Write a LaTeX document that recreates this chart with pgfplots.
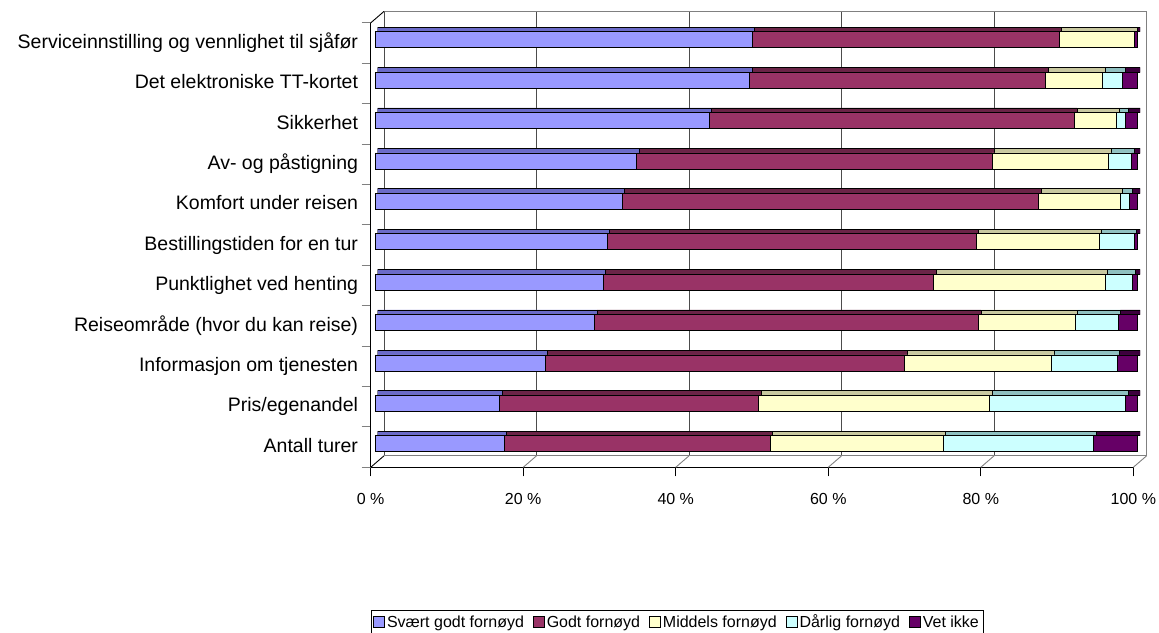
\documentclass[border=0pt]{standalone}
\usepackage{fontspec}
\setmainfont{Liberation Sans}
\usepackage{pgfplots}
\usepackage{pgfplotstable}
\pgfplotsset{compat=1.18}

\definecolor{c1}{HTML}{9999FF}
\definecolor{c2}{HTML}{993366}
\definecolor{c3}{HTML}{FFFFCC}
\definecolor{c4}{HTML}{CCFFFF}
\definecolor{c5}{HTML}{660066}
\definecolor{t1}{HTML}{6B6BC8}
\definecolor{t2}{HTML}{6B2447}
\definecolor{t3}{HTML}{C8C8A0}
\definecolor{t4}{HTML}{8FC0C0}
\definecolor{t5}{HTML}{3D003D}

% idx 0 = Antall turer (bottom) ... 10 = Serviceinnstilling (top)
\pgfplotstableread{
idx a b c d e
0 16.9 34.9 22.7 19.7 5.8
1 16.3 34.0 30.3 17.8 1.6
2 22.3 47.1 19.3 8.6 2.7
3 28.8 50.3 12.7 5.6 2.6
4 29.9 43.3 22.5 3.6 0.7
5 30.4 48.4 16.1 4.6 0.5
6 32.4 54.6 10.7 1.2 1.1
7 34.3 46.6 15.3 3.0 0.8
8 43.8 47.9 5.5 1.2 1.6
9 49.1 38.8 7.5 2.6 2.0
10 49.4 40.3 9.9 0.0 0.4
}\data

\pgfplotsset{
  lg/.style={legend image code/.code={\draw[##1, line width=0.8pt] (0pt,-5.5pt) rectangle (11pt,5.5pt);}},
}

\begin{document}
\begin{tikzpicture}
\path[use as bounding box] (0pt,0pt) rectangle (1159pt,632pt);

% frame: floor, left wall, back wall
\begin{axis}[at={(370.7pt,164.7pt)}, anchor=south west, scale only axis,
  width=762.6pt, height=444.4pt, clip=false,
  xmin=0, xmax=100, ymin=0, ymax=11,
  axis x line*=bottom, axis y line*=left,
  axis line style={black, line width=0.9pt, -},
  tick align=outside, major tick length=9pt,
  xtick={0,20,40,60,80,100},
  xticklabels={0 \%,20 \%,40 \%,60 \%,80 \%,100 \%},
  x tick style={black, line width=0.9pt},
  y tick style={gray, line width=0.9pt},
  ytick={0,1,...,11}, yticklabels={},
  xticklabel style={font=\fontsize{16}{18}\selectfont, anchor=base, inner sep=0pt, yshift=-27.7pt},
]
\pgfplotsinvokeforeach{0,20,40,60,80}{
  \draw[black!70, line width=0.9pt] ([shift={(13.3pt,11.5pt)}]axis cs:#1,0) -- ([shift={(13.3pt,11.5pt)}]axis cs:#1,11);
}
\pgfplotsinvokeforeach{20,40,60,80}{
  \draw[gray, line width=0.9pt] (axis cs:#1,0) -- ([shift={(13.3pt,11.5pt)}]axis cs:#1,0);
}
\draw[gray, line width=0.9pt] ([shift={(13.3pt,11.5pt)}]rel axis cs:0,0) -- ([shift={(13.3pt,11.5pt)}]rel axis cs:1,0)
  -- ([shift={(13.3pt,11.5pt)}]rel axis cs:1,1) -- ([shift={(13.3pt,11.5pt)}]rel axis cs:0,1);
\draw[gray, line width=0.9pt] (rel axis cs:1,0) -- ([shift={(13.3pt,11.5pt)}]rel axis cs:1,0);
\draw[black, line width=0.9pt] (rel axis cs:0,0) -- ([shift={(13.3pt,11.5pt)}]rel axis cs:0,0);
\draw[black, line width=0.9pt] (rel axis cs:0,1) -- ([shift={(13.3pt,11.5pt)}]rel axis cs:0,1);
\end{axis}

% top faces of the bars
\begin{axis}[at={(377.6pt,168.7pt)}, anchor=south west, scale only axis,
  width=762.6pt, height=442.3pt,
  xmin=0, xmax=100, ymin=-0.485, ymax=10.463,
  hide axis, xbar stacked, bar width=4.6pt, bar shift=10.3pt,
]
\addplot[fill=t1, draw=black, line width=0.6pt] table[x=a, y=idx] {\data};
\addplot[fill=t2, draw=black, line width=0.6pt] table[x=b, y=idx] {\data};
\addplot[fill=t3, draw=black, line width=0.6pt] table[x=c, y=idx] {\data};
\addplot[fill=t4, draw=black, line width=0.6pt] table[x=d, y=idx] {\data};
\addplot[fill=t5, draw=black, line width=0.6pt] table[x=e, y=idx] {\data};
\end{axis}

% front faces
\begin{axis}[at={(375.2pt,168.7pt)}, anchor=south west, scale only axis,
  width=762.6pt, height=442.3pt,
  xmin=0, xmax=100, ymin=-0.485, ymax=10.463,
  xbar stacked, bar width=16pt,
  axis line style={draw=none}, tick style={draw=none},
  xtick=\empty, ytick={0,1,...,10},
  yticklabels={Antall turer, Pris/egenandel, Informasjon om tjenesten,
    Reiseområde (hvor du kan reise), Punktlighet ved henting,
    Bestillingstiden for en tur, Komfort under reisen, Av- og påstigning,
    Sikkerhet, Det elektroniske TT-kortet,
    Serviceinnstilling og vennlighet til sjåfør},
  yticklabel style={font=\fontsize{19.5}{22}\selectfont, anchor=base east, inner sep=0pt, xshift=-17pt, yshift=-8.6pt},
  legend columns=-1,
  legend style={at={(0.3958,-0.3588)}, anchor=center, draw=black, line width=0.6pt,
    font=\fontsize{16}{19}\selectfont, inner sep=2pt,
    /tikz/every even column/.append style={column sep=7pt}},
]
\addplot[fill=c1, draw=black, line width=0.8pt, lg] table[x=a, y=idx] {\data};
\addplot[fill=c2, draw=black, line width=0.8pt, lg] table[x=b, y=idx] {\data};
\addplot[fill=c3, draw=black, line width=0.8pt, lg] table[x=c, y=idx] {\data};
\addplot[fill=c4, draw=black, line width=0.8pt, lg] table[x=d, y=idx] {\data};
\addplot[fill=c5, draw=black, line width=0.8pt, lg] table[x=e, y=idx] {\data};
\legend{Svært godt fornøyd, Godt fornøyd, Middels fornøyd, Dårlig fornøyd, Vet ikke}
\end{axis}
\end{tikzpicture}
\end{document}
